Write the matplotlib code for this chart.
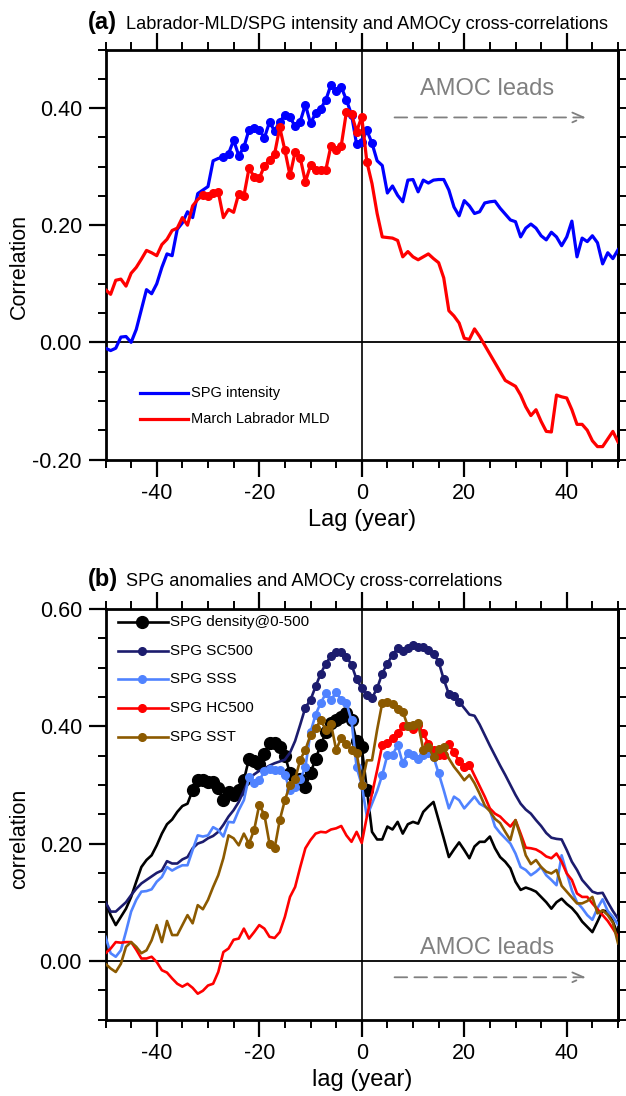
import matplotlib
matplotlib.use('Agg')
import matplotlib.pyplot as plt
from matplotlib.ticker import MultipleLocator, FixedLocator, FormatStrFormatter

plt.rcParams['font.family'] = ['Liberation Sans', 'DejaVu Sans']
plt.rcParams['axes.unicode_minus'] = False

lags = list(range(-50, 51))

# ---------------- panel (a) data ----------------
spg_intensity = [
    -0.010, -0.014, -0.010, 0.009, 0.010, 0.000, 0.022, 0.056, 0.090, 0.083,
    0.100, 0.128, 0.151, 0.148, 0.193, 0.204, 0.223, 0.213, 0.254, 0.260,
    0.266, 0.310, 0.314, 0.316, 0.322, 0.345, 0.319, 0.333, 0.363, 0.366,
    0.363, 0.349, 0.376, 0.361, 0.377, 0.388, 0.384, 0.369, 0.377, 0.406,
    0.374, 0.391, 0.399, 0.414, 0.440, 0.429, 0.436, 0.414, 0.389, 0.338,
    0.342, 0.362, 0.340, 0.310, 0.302, 0.255, 0.267, 0.251, 0.240, 0.277,
    0.278, 0.257, 0.277, 0.272, 0.277, 0.278, 0.278, 0.260, 0.231, 0.216,
    0.242, 0.233, 0.220, 0.223, 0.238, 0.240, 0.241, 0.229, 0.219, 0.209,
    0.206, 0.180, 0.195, 0.202, 0.195, 0.182, 0.175, 0.188, 0.180, 0.165,
    0.180, 0.207, 0.146, 0.178, 0.172, 0.182, 0.170, 0.134, 0.153, 0.143, 0.158]
march_mld = [
    0.090, 0.082, 0.106, 0.108, 0.096, 0.118, 0.128, 0.142, 0.157, 0.153,
    0.148, 0.167, 0.176, 0.191, 0.195, 0.213, 0.200, 0.233, 0.244, 0.251,
    0.250, 0.255, 0.257, 0.213, 0.227, 0.222, 0.254, 0.250, 0.297, 0.283,
    0.280, 0.301, 0.312, 0.322, 0.367, 0.328, 0.285, 0.325, 0.315, 0.274,
    0.302, 0.295, 0.294, 0.295, 0.336, 0.329, 0.336, 0.393, 0.390, 0.360,
    0.385, 0.308, 0.271, 0.220, 0.180, 0.179, 0.178, 0.174, 0.146, 0.155,
    0.146, 0.141, 0.146, 0.151, 0.143, 0.136, 0.110, 0.054, 0.045, 0.033,
    0.007, 0.005, 0.023, 0.010, -0.005, -0.020, -0.035, -0.050, -0.065, -0.070,
    -0.075, -0.090, -0.110, -0.125, -0.115, -0.135, -0.152, -0.153, -0.090, -0.093,
    -0.095, -0.115, -0.140, -0.140, -0.150, -0.168, -0.178, -0.178, -0.165, -0.152, -0.170]
# lag ranges drawn with markers (significant correlations)
spg_intensity_sig = [(-27, 2)]
march_mld_sig = [(-31, -28), (-24, 1)]

# ---------------- panel (b) data ----------------
density = [
    0.100, 0.078, 0.061, 0.075, 0.089, 0.109, 0.135, 0.160, 0.172, 0.180,
    0.197, 0.217, 0.233, 0.241, 0.254, 0.264, 0.268, 0.291, 0.309, 0.309,
    0.305, 0.305, 0.294, 0.274, 0.288, 0.282, 0.292, 0.308, 0.345, 0.340,
    0.335, 0.352, 0.372, 0.372, 0.364, 0.350, 0.320, 0.310, 0.310, 0.297,
    0.320, 0.345, 0.368, 0.390, 0.405, 0.410, 0.415, 0.422, 0.410, 0.375,
    0.364, 0.292, 0.220, 0.207, 0.207, 0.229, 0.224, 0.237, 0.217, 0.233,
    0.237, 0.234, 0.254, 0.263, 0.271, 0.240, 0.209, 0.177, 0.190, 0.202,
    0.189, 0.175, 0.195, 0.203, 0.203, 0.212, 0.192, 0.177, 0.169, 0.158,
    0.135, 0.121, 0.125, 0.122, 0.118, 0.109, 0.100, 0.089, 0.100, 0.106,
    0.097, 0.090, 0.080, 0.067, 0.058, 0.049, 0.067, 0.086, 0.084, 0.067, 0.044]
sc500 = [
    0.100, 0.084, 0.084, 0.092, 0.100, 0.112, 0.123, 0.132, 0.138, 0.144,
    0.150, 0.154, 0.170, 0.166, 0.166, 0.173, 0.177, 0.192, 0.200, 0.203,
    0.209, 0.213, 0.220, 0.232, 0.246, 0.257, 0.271, 0.290, 0.310, 0.318,
    0.324, 0.328, 0.333, 0.337, 0.340, 0.343, 0.355, 0.375, 0.403, 0.432,
    0.445, 0.468, 0.490, 0.507, 0.520, 0.527, 0.527, 0.519, 0.505, 0.480,
    0.465, 0.453, 0.448, 0.465, 0.490, 0.507, 0.522, 0.533, 0.528, 0.533,
    0.538, 0.536, 0.535, 0.530, 0.524, 0.510, 0.480, 0.455, 0.452, 0.442,
    0.431, 0.420, 0.418, 0.403, 0.385, 0.367, 0.350, 0.333, 0.317, 0.300,
    0.283, 0.268, 0.258, 0.251, 0.240, 0.230, 0.218, 0.210, 0.208, 0.207,
    0.189, 0.169, 0.155, 0.138, 0.128, 0.118, 0.115, 0.116, 0.100, 0.085, 0.072]
sss = [
    0.041, 0.013, 0.007, 0.018, 0.050, 0.084, 0.104, 0.118, 0.119, 0.122,
    0.135, 0.143, 0.160, 0.154, 0.159, 0.163, 0.163, 0.189, 0.214, 0.212,
    0.214, 0.228, 0.223, 0.212, 0.237, 0.236, 0.257, 0.274, 0.314, 0.303,
    0.308, 0.323, 0.328, 0.325, 0.325, 0.317, 0.291, 0.297, 0.310, 0.330,
    0.390, 0.420, 0.440, 0.456, 0.445, 0.458, 0.445, 0.440, 0.410, 0.330,
    0.300, 0.246, 0.268, 0.290, 0.317, 0.351, 0.351, 0.368, 0.337, 0.354,
    0.351, 0.344, 0.351, 0.354, 0.348, 0.320, 0.291, 0.260, 0.280, 0.274,
    0.260, 0.270, 0.280, 0.268, 0.263, 0.257, 0.229, 0.218, 0.209, 0.200,
    0.183, 0.160, 0.155, 0.146, 0.152, 0.160, 0.146, 0.138, 0.129, 0.180,
    0.150, 0.120, 0.100, 0.090, 0.078, 0.070, 0.090, 0.105, 0.085, 0.075, 0.062]
hc500 = [
    0.013, 0.021, 0.032, 0.031, 0.032, 0.032, 0.019, 0.004, 0.004, 0.007,
    -0.002, -0.016, -0.020, -0.030, -0.039, -0.044, -0.039, -0.046, -0.056, -0.051,
    -0.042, -0.039, -0.019, 0.015, 0.021, 0.036, 0.038, 0.055, 0.038, 0.049,
    0.061, 0.055, 0.041, 0.039, 0.049, 0.075, 0.109, 0.126, 0.160, 0.192,
    0.206, 0.217, 0.220, 0.219, 0.224, 0.226, 0.230, 0.214, 0.203, 0.220,
    0.201, 0.246, 0.285, 0.325, 0.368, 0.372, 0.380, 0.388, 0.400, 0.400,
    0.396, 0.402, 0.388, 0.370, 0.360, 0.351, 0.351, 0.369, 0.356, 0.340,
    0.331, 0.334, 0.316, 0.298, 0.280, 0.260, 0.251, 0.246, 0.237, 0.229,
    0.240, 0.217, 0.193, 0.192, 0.190, 0.185, 0.178, 0.175, 0.183, 0.169,
    0.149, 0.138, 0.115, 0.109, 0.109, 0.098, 0.088, 0.078, 0.068, 0.055, 0.041]
sst = [
    -0.005, -0.013, -0.019, -0.005, 0.024, 0.032, 0.024, 0.013, 0.018, 0.035,
    0.061, 0.032, 0.068, 0.044, 0.044, 0.061, 0.078, 0.064, 0.095, 0.088,
    0.104, 0.126, 0.146, 0.175, 0.214, 0.209, 0.197, 0.217, 0.200, 0.223,
    0.266, 0.249, 0.200, 0.192, 0.240, 0.274, 0.300, 0.310, 0.343, 0.360,
    0.385, 0.397, 0.410, 0.394, 0.404, 0.360, 0.380, 0.370, 0.360, 0.355,
    0.300, 0.342, 0.342, 0.394, 0.440, 0.442, 0.438, 0.430, 0.425, 0.400,
    0.402, 0.405, 0.360, 0.365, 0.348, 0.361, 0.364, 0.345, 0.331, 0.320,
    0.308, 0.317, 0.303, 0.285, 0.265, 0.255, 0.242, 0.235, 0.220, 0.206,
    0.240, 0.212, 0.180, 0.165, 0.172, 0.160, 0.152, 0.149, 0.155, 0.128,
    0.118, 0.108, 0.098, 0.098, 0.102, 0.109, 0.081, 0.086, 0.078, 0.065, 0.030]
density_sig = [(-33, 1)]
sc500_sig = [(-11, 19)]
sss_sig = [(-22, 0), (4, 15)]
hc500_sig = [(4, 21)]
sst_sig = [(-22, 0), (4, 16)]

a_labels = ['SPG intensity', 'March Labrador MLD']
b_labels = ['SPG density@0-500', 'SPG SC500', 'SPG SSS', 'SPG HC500', 'SPG SST']

# ---------------- figure ----------------
W, H = 626, 1096
fig = plt.figure(figsize=(W / 100, H / 100), dpi=100)

def px_axes(left, top, right, bottom):
    return fig.add_axes([left / W, 1 - bottom / H, (right - left) / W, (bottom - top) / H])

axA = px_axes(105.5, 49.5, 618, 459.5)
axB = px_axes(105.5, 609, 618, 1019.5)

GRAY = '#808080'


def style_axes(ax, ylim, yticks):
    ax.set_xlim(-50, 50)
    ax.set_ylim(*ylim)
    ax.xaxis.set_major_locator(FixedLocator([-40, -20, 0, 20, 40]))
    ax.xaxis.set_minor_locator(MultipleLocator(5))
    ax.yaxis.set_major_locator(FixedLocator(yticks))
    ax.yaxis.set_minor_locator(MultipleLocator(0.05))
    ax.yaxis.set_major_formatter(FormatStrFormatter('%.2f'))
    ax.tick_params(which='major', direction='out', length=12, width=1.6,
                   labelsize=15.5, top=True, right=False, pad=5)
    ax.tick_params(which='minor', direction='out', length=6, width=1.4,
                   top=True, right=False)
    for s in ax.spines.values():
        s.set_linewidth(2.0)
    sec = ax.secondary_yaxis('right')
    sec.yaxis.set_major_locator(MultipleLocator(0.05))
    sec.yaxis.set_minor_locator(MultipleLocator(0.05))
    sec.tick_params(which='both', direction='out', length=6, width=1.4,
                    labelright=False)
    sec.spines['right'].set_linewidth(2.0)
    ax.axhline(0, color='black', lw=1.3, zorder=1)
    ax.axvline(0, color='black', lw=1.2, zorder=1)


def in_ranges(lag, ranges):
    return any(a <= lag <= b for a, b in ranges)


def plot_series(ax, vals, sig, color, lw, ms, z):
    ax.plot(lags, vals, color=color, lw=lw, zorder=z, solid_joinstyle='round')
    sx = [l for l in lags if in_ranges(l, sig)]
    sy = [v for l, v in zip(lags, vals) if in_ranges(l, sig)]
    ax.plot(sx, sy, ls='none', marker='o', ms=ms, color=color, zorder=z)


def amoc_leads(ax, ytext, yarrow):
    ax.text(24.4, ytext, 'AMOC leads', color=GRAY, fontsize=17,
            ha='center', va='baseline')
    ax.annotate('', xy=(43.7, yarrow), xytext=(6.4, yarrow),
                arrowprops=dict(arrowstyle='->,head_length=0.8,head_width=0.35',
                                color=GRAY, lw=1.3, linestyle=(0, (7, 4)),
                                shrinkA=0, shrinkB=0))

# ---- panel a ----
style_axes(axA, (-0.2, 0.5), [-0.2, 0.0, 0.2, 0.4])
plot_series(axA, spg_intensity, spg_intensity_sig, '#0000FF', 2.3, 5.5, 3)
plot_series(axA, march_mld, march_mld_sig, '#FF0000', 2.3, 5.5, 4)
amoc_leads(axA, 0.4216, 0.384)

leg_a_colors = ['#0000FF', '#FF0000']
for lab, c, y in zip(a_labels, leg_a_colors, [0.162, 0.0988]):
    axA.plot([0.0673, 0.161], [y, y], color=c, lw=2.3, transform=axA.transAxes)
    axA.text(0.167, y, lab, fontsize=10.5, va='center', ha='left',
             transform=axA.transAxes)

axA.text(0.5, -0.148, 'Lag (year)', fontsize=17, ha='center', va='center',
         transform=axA.transAxes)
axA.text(-0.168, 0.47, 'Correlation', fontsize=15.5, ha='center', va='center',
         rotation=90, transform=axA.transAxes)

fig.text(88 / W, 1 - 29 / H, '(a)', fontsize=17, fontweight='bold',
         ha='left', va='baseline')
fig.text(126 / W, 1 - 29 / H, 'Labrador-MLD/SPG intensity and AMOCy cross-correlations',
         fontsize=13.1, ha='left', va='baseline')

# ---- panel b ----
style_axes(axB, (-0.1, 0.6), [0.0, 0.2, 0.4, 0.6])
b_series = [density, sc500, sss, hc500, sst]
b_sigs = [density_sig, sc500_sig, sss_sig, hc500_sig, sst_sig]
b_colors = ['#000000', '#1C1C6E', '#5083FF', '#FF0000', '#8C5A00']
b_ms = [8.5, 5.5, 5.5, 5.5, 5.5]
for k, (vals, sig, c, ms) in enumerate(zip(b_series, b_sigs, b_colors, b_ms)):
    plot_series(axB, vals, sig, c, 1.9, ms, 3 + k)
amoc_leads(axB, 0.0114, -0.028)

leg_b_y = [0.968, 0.897, 0.829, 0.759, 0.688]
for lab, c, ms, y in zip(b_labels, b_colors, b_ms, leg_b_y):
    axB.plot([0.0244, 0.122], [y, y], color=c, lw=1.9, transform=axB.transAxes)
    axB.plot([0.0712], [y], marker='o', ms=ms, color=c, transform=axB.transAxes)
    axB.text(0.126, y, lab, fontsize=11, va='center', ha='left',
             transform=axB.transAxes)

axB.text(0.5, -0.148, 'lag (year)', fontsize=17, ha='center', va='center',
         transform=axB.transAxes)
axB.text(-0.168, 0.44, 'correlation', fontsize=15.5, ha='center', va='center',
         rotation=90, transform=axB.transAxes)

fig.text(88 / W, 1 - 586 / H, '(b)', fontsize=17, fontweight='bold',
         ha='left', va='baseline')
fig.text(126 / W, 1 - 586 / H, 'SPG anomalies and AMOCy cross-correlations',
         fontsize=13.1, ha='left', va='baseline')

fig.savefig('out.png', dpi=100)
